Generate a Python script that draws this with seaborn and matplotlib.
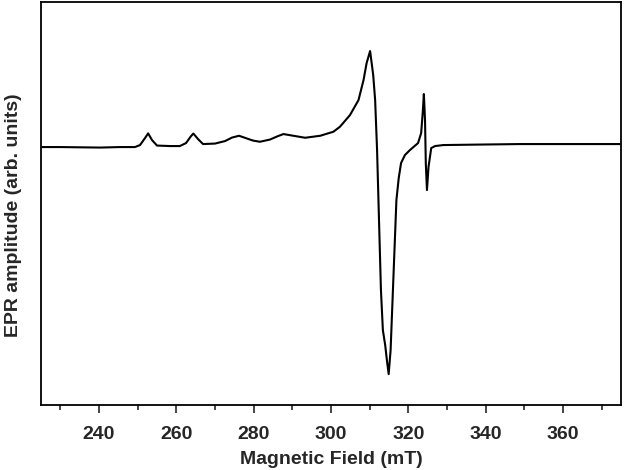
import seaborn as sns
import pandas as pd
import matplotlib.pyplot as plt
from matplotlib.ticker import MultipleLocator

# EPR spectrum
field_mT = [225.3, 229.9, 240.3, 245.4, 249.3, 250.6, 251.9, 252.7, 253.7, 255.0,
            258.4, 260.9, 262.5, 263.8, 264.4, 265.6, 266.9, 270.0, 272.6, 274.4,
            276.2, 278.3, 279.8, 281.6, 284.2, 286.3, 287.7, 290.7, 293.3, 297.2,
            300.6, 302.3, 304.9, 307.1, 308.4, 309.2, 310.1, 310.9, 311.4, 311.9,
            312.4, 312.9, 313.4, 314.0, 314.5, 314.9, 315.4, 315.9, 316.4, 316.9,
            317.5, 318.1, 319.1, 320.4, 322.5, 323.3, 323.7, 324.0, 324.3, 324.5,
            324.8, 325.2, 325.9, 326.9, 329.0, 338.5, 348.9, 359.2, 374.7]
amplitude = [0, 0, -0.5, 0, 0, 2, 9, 13.7, 7, 1.5,
             1, 1, 4, 11, 13.5, 8, 3, 3.5, 6, 9.5,
             11.3, 8.5, 6.5, 5.3, 7.5, 11, 13, 11, 9.3, 11.3,
             15.3, 20.3, 32, 47, 67, 84, 96, 72, 47, -3,
             -73, -143, -183, -198, -215, -227, -203, -153, -103, -53,
             -31, -16, -8, -3, 4, 14, 34, 53, 27, -16,
             -43, -20, -1, 1, 2, 2.5, 3, 3, 3]
x_ticks = [240, 260, 280, 300, 320, 340, 360]

df = pd.DataFrame({'Field': field_mT, 'Amplitude': amplitude})

sns.set_style('ticks')
plt.rcParams['font.family'] = ['Liberation Sans', 'DejaVu Sans']

fig = plt.figure(figsize=(6.28, 4.70), dpi=100)
ax = fig.add_axes([0.0653, 0.138, 0.9237, 0.8577])
sns.lineplot(x='Field', y='Amplitude', data=df, sort=False, color='black',
             linewidth=1.5, ax=ax)

ax.set_xlim(225, 375)
ax.set_ylim(-258, 145)
ax.set_xticks(x_ticks)
ax.xaxis.set_minor_locator(MultipleLocator(10))
ax.set_yticks([])
ax.tick_params(axis='x', which='major', direction='out', length=6, width=1.2,
               labelsize=14, pad=9)
ax.tick_params(axis='x', which='minor', direction='out', length=3.5, width=1.2)
for lab in ax.get_xticklabels():
    lab.set_fontweight('bold')
for sp in ax.spines.values():
    sp.set_visible(True)
    sp.set_linewidth(1.3)
    sp.set_color('black')

ax.set_xlabel('Magnetic Field (mT)', fontsize=14, fontweight='bold', labelpad=6)
ax.set_ylabel('EPR amplitude (arb. units)', fontsize=14, fontweight='bold', labelpad=14)
ax.yaxis.label.set_y(0.47)

fig.savefig('out.png', dpi=100)
